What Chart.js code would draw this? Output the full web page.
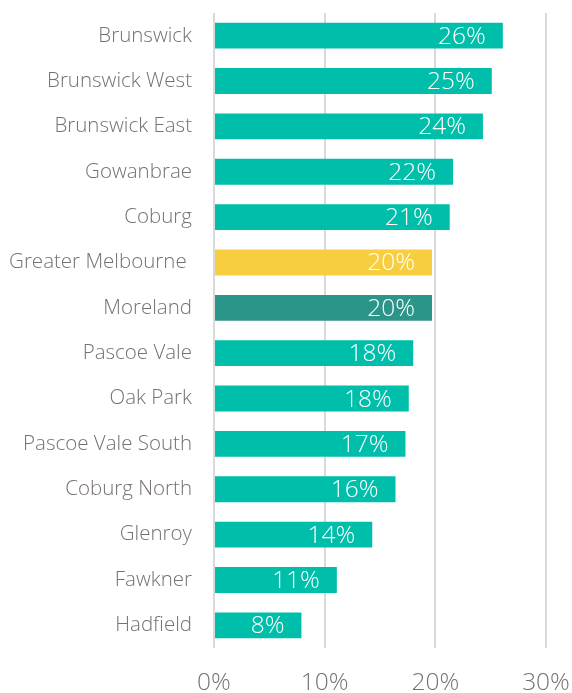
<!DOCTYPE html>
<html>
<head>
<meta charset="utf-8">
<script src="https://cdn.jsdelivr.net/npm/chart.js@4"></script>
<style>
  html, body { margin: 0; padding: 0; background: #ffffff; }
  #wrap { width: 572px; height: 693px; }
</style>
</head>
<body>
<div id="wrap"><canvas id="chart" width="572" height="693"></canvas></div>
<script>
// suburbs, top to bottom
const suburbs = [
    "Brunswick", "Brunswick West", "Brunswick East", "Gowanbrae", "Coburg",
    "Greater Melbourne ", "Moreland", "Pascoe Vale", "Oak Park",
    "Pascoe Vale South", "Coburg North", "Glenroy", "Fawkner", "Hadfield"
];
// share in percent
const shares = [26.1, 25.1, 24.3, 21.6, 21.3, 19.7, 19.7, 18.0, 17.6, 17.3, 16.4, 14.3, 11.1, 7.9];
const xTicks = [0, 10, 20, 30];

const teal = "#00bfaa";
const barColors = suburbs.map(s => {
    if (s.trim() === "Greater Melbourne") return "#f6ce3f";
    if (s === "Moreland") return "#2c9589";
    return teal;
});

const fontFamily = "'Open Sans', Lato, sans-serif";
const grey = "#767071";

// white value labels inside the bar end
const barLabels = {
    id: "barLabels",
    afterDatasetsDraw(chart) {
        const ctx = chart.ctx;
        const meta = chart.getDatasetMeta(0);
        ctx.save();
        ctx.fillStyle = "#ffffff";
        ctx.font = "300 24.5px " + fontFamily;
        ctx.textAlign = "right";
        ctx.textBaseline = "middle";
        meta.data.forEach((bar, i) => {
            ctx.fillText(Math.round(shares[i]) + "%", bar.x - 17, bar.y + 1);
        });
        ctx.restore();
    }
};

new Chart(document.getElementById("chart").getContext("2d"), {
    type: "bar",
    data: {
        labels: suburbs,
        datasets: [{
            data: shares,
            backgroundColor: barColors,
            borderWidth: 0,
            categoryPercentage: 1,
            barPercentage: 0.57
        }]
    },
    options: {
        indexAxis: "y",
        responsive: false,
        animation: false,
        layout: { padding: { top: 13, right: 26, left: 0, bottom: 0 } },
        plugins: {
            legend: { display: false },
            tooltip: { enabled: false }
        },
        scales: {
            x: {
                min: 0,
                max: 30,
                afterBuildTicks(scale) {
                    scale.ticks = xTicks.map(v => ({ value: v }));
                },
                afterFit(scale) {
                    scale.height = 45;
                    scale.paddingLeft = 0;
                    scale.paddingRight = 0;
                },
                border: { display: false },
                grid: { color: "#d9d9d9", lineWidth: 2, drawTicks: false },
                ticks: {
                    color: grey,
                    padding: 20,
                    font: { family: fontFamily, size: 24.5, weight: 300 },
                    callback: v => v + "%"
                }
            },
            y: {
                afterFit(scale) {
                    scale.width = 214;
                    scale.paddingTop = 0;
                    scale.paddingBottom = 0;
                },
                border: { display: false },
                grid: { display: false, drawTicks: false },
                ticks: {
                    color: grey,
                    padding: 22,
                    font: { family: fontFamily, size: 20.5, weight: 300 }
                }
            }
        }
    },
    plugins: [barLabels]
});
</script>
</body>
</html>
